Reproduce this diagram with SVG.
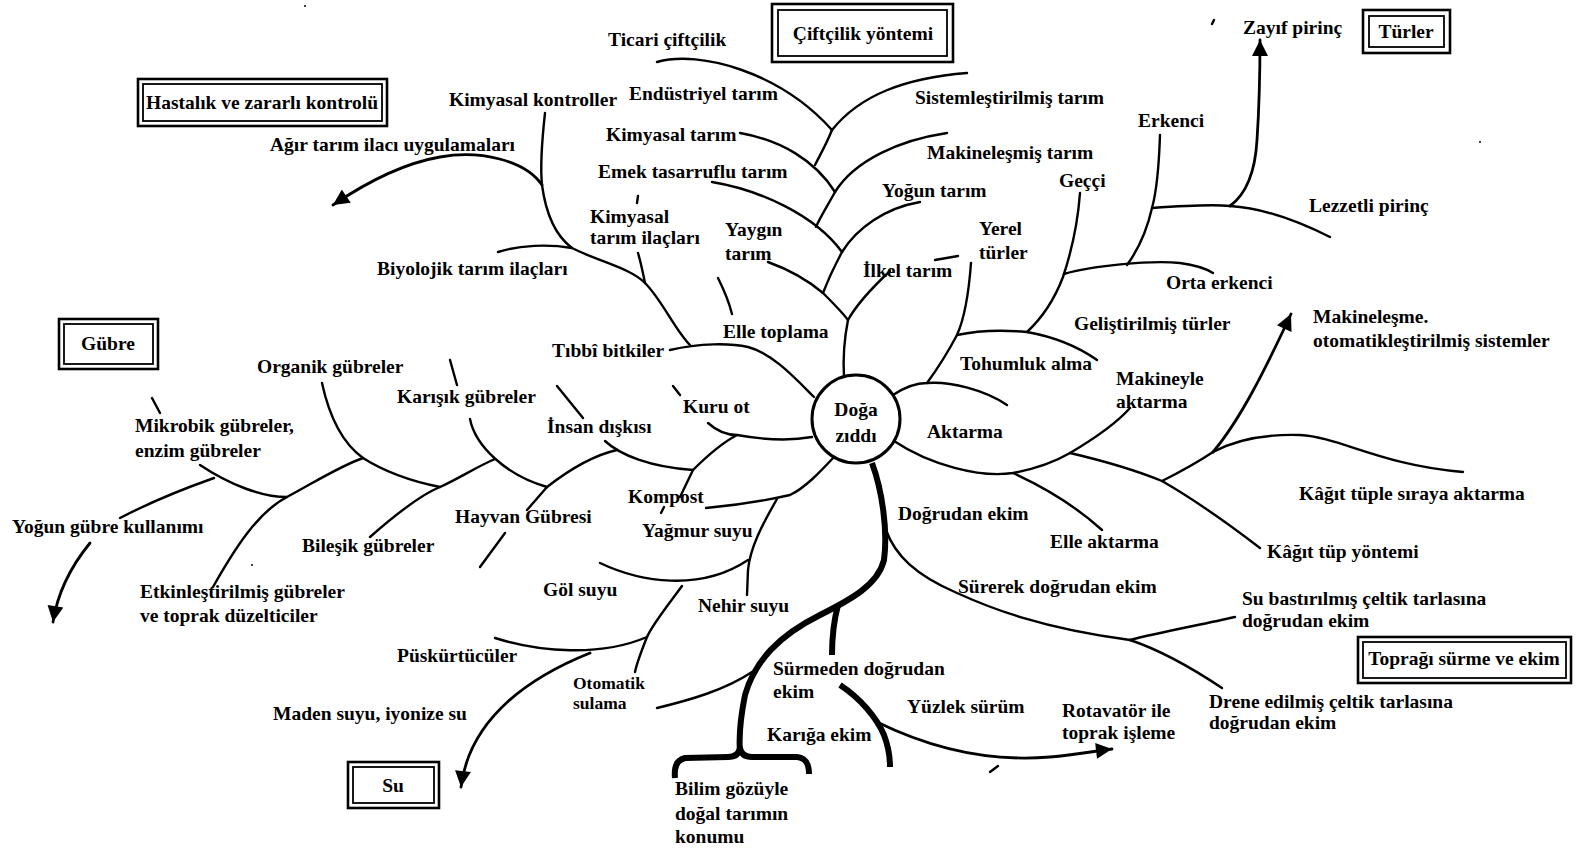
<svg xmlns="http://www.w3.org/2000/svg" width="1579" height="851" viewBox="0 0 1579 851">
<style>
.l{fill:none;stroke:#000;stroke-width:2.4;stroke-linecap:round;stroke-linejoin:round}
.k{fill:none;stroke:#000;stroke-width:6;stroke-linecap:butt;stroke-linejoin:round}
.a{fill:none;stroke:#000;stroke-width:2.8;stroke-linecap:round;marker-end:url(#ah)}
.t{font-family:"Liberation Serif","Times New Roman",serif;font-weight:bold;font-size:19.5px;fill:#000}
.s{font-size:17.5px}
.c{text-anchor:middle}
.bo{fill:#fff;stroke:#000;stroke-width:2.6}
.bi{fill:none;stroke:#000;stroke-width:1.8}
</style>
<defs>
<marker id="ah" viewBox="0 0 10 10" refX="10" refY="5" markerWidth="21" markerHeight="16" markerUnits="userSpaceOnUse" orient="auto"><path d="M0,0 L10,5 L0,10 z" fill="#000"/></marker>
</defs>
<rect width="1579" height="851" fill="#fff"/>

<g id="connectors">
<!-- farming methods tree -->
<path class="l" d="M657,62 C700,50 780,72 832,130"/>
<path class="l" d="M832,130 C860,95 905,78 967,73"/>
<path class="l" d="M832,130 C826,145 820,155 815,165"/>
<path class="l" d="M740,133 C780,140 815,160 835,192"/>
<path class="l" d="M947,133 C900,140 855,160 835,192"/>
<path class="l" d="M835,192 C828,205 820,217 816,227"/>
<path class="l" d="M712,182 C760,190 815,215 842,252"/>
<path class="l" d="M920,202 C885,208 857,228 842,252"/>
<path class="l" d="M842,252 C835,265 828,280 823,293"/>
<path class="l" d="M768,262 C790,270 810,282 823,293 C832,302 842,312 848,320"/>
<path class="l" d="M890,271 C875,285 858,302 848,320"/>
<path class="l" d="M848,320 C844,340 843,360 844,377"/>
<path class="l" d="M935,260 L958,256"/>
<!-- disease and pest control tree -->
<path class="l" d="M545,113 C542,140 540,165 542,185"/>
<path class="a" d="M542,185 C525,160 480,150 440,157 C405,163 370,180 333,205"/>
<path class="l" d="M542,185 C546,215 556,236 572,248 C600,262 630,268 645,283 C662,300 675,330 690,345"/>
<path class="l" d="M498,252 C520,245 548,244 572,248"/>
<path class="l" d="M638,253 C641,263 643,273 645,283"/>
<path class="l" d="M638,196 L637,203"/>
<path class="l" d="M670,350 C700,343 730,343 748,347 C772,353 795,378 814,397"/>
<path class="l" d="M718,278 C724,290 729,302 732,314"/>
<!-- fertilizer tree -->
<path class="l" d="M322,383 C330,420 345,445 363,458 C385,472 415,482 440,487"/>
<path class="l" d="M370,537 C395,515 420,495 440,487 C460,478 478,466 495,459"/>
<path class="l" d="M470,419 C475,445 505,475 547,487"/>
<path class="l" d="M527,510 L547,487"/>
<path class="l" d="M547,487 C565,473 590,456 617,450"/>
<path class="l" d="M605,441 C620,455 650,467 693,470"/>
<path class="l" d="M680,497 L693,470"/>
<path class="l" d="M693,470 C707,456 722,443 737,435"/>
<path class="l" d="M708,423 C718,432 728,435 737,435 C765,440 790,441 812,437"/>
<path class="l" d="M200,465 C230,485 262,497 287,497"/>
<path class="l" d="M214,478 C180,490 145,505 120,518"/>
<path class="a" d="M90,543 C72,565 58,590 53,622"/>
<path class="l" d="M213,587 C235,548 258,512 287,497 C315,482 340,466 363,458"/>
<path class="l" d="M450,360 L457,385"/>
<path class="l" d="M152,398 L160,413"/>
<path class="l" d="M557,386 L583,418"/>
<path class="l" d="M673,386 L680,395"/>
<path class="l" d="M505,533 L480,567"/>
<path class="l" d="M661,513 L664,507"/>
<!-- water tree -->
<path class="l" d="M706,508 C740,505 768,500 790,495 C805,488 820,472 834,457"/>
<path class="l" d="M777,499 C762,525 750,548 748,570 L747,595"/>
<path class="l" d="M600,563 C640,582 700,592 748,560"/>
<path class="l" d="M682,586 C668,605 652,625 647,637 C641,652 637,662 635,672"/>
<path class="l" d="M495,638 C540,652 600,657 647,637"/>
<path class="a" d="M590,653 C535,675 470,715 461,787"/>
<path class="l" d="M657,708 C690,700 725,690 752,672"/>
<!-- scientific position trunk -->
<path class="k" d="M872,463 C882,490 888,530 884,560 C878,585 850,600 820,615 C780,635 755,660 745,695 C740,720 739,740 740,752"/>
<path class="k" d="M838,605 C834,620 832,638 832,655"/>
<path class="k" stroke-width="5" d="M675,778 C674,768 676,760 685,758 L728,757 C735,757 739,754 740,748 C741,754 745,757 752,757 L797,757 C806,758 809,764 809,774"/>
<path class="k" d="M840,685 C860,698 877,718 884,735 C889,748 890,758 890,767"/>
<path class="a" d="M877,722 C930,748 990,762 1050,757 C1075,755 1095,751 1112,749"/>
<path class="l" d="M990,772 L998,766"/>
<!-- varieties tree -->
<path class="l" d="M893,395 C905,387 915,383 927,383 C950,381 985,390 1007,405"/>
<path class="l" d="M971,263 C969,290 966,315 957,335 C948,352 938,368 927,383"/>
<path class="l" d="M957,335 C980,330 1005,330 1027,332 C1055,337 1080,348 1097,360"/>
<path class="l" d="M1080,193 C1078,220 1072,250 1063,277 C1055,298 1042,318 1027,332"/>
<path class="l" d="M1064,274 C1090,266 1150,260 1180,263 C1195,265 1205,268 1213,273"/>
<path class="l" d="M1160,135 C1159,165 1157,190 1152,208 C1147,230 1138,250 1127,265"/>
<path class="l" d="M1152,208 C1180,206 1210,204 1230,206 C1265,208 1300,222 1330,237"/>
<path class="a" d="M1230,206 C1245,195 1255,175 1257,140 C1259,110 1260,85 1260,40"/>
<!-- transplanting tree -->
<path class="l" d="M894,441 C930,465 980,478 1013,473 C1040,468 1058,460 1070,453 C1092,440 1115,425 1130,408"/>
<path class="l" d="M1013,473 C1050,490 1080,510 1102,530"/>
<path class="l" d="M1070,453 C1100,460 1135,470 1162,481 C1195,500 1230,525 1260,548"/>
<path class="l" d="M1162,481 C1180,472 1198,462 1213,452"/>
<path class="a" d="M1213,452 C1240,420 1265,370 1291,314"/>
<path class="l" d="M1213,452 C1235,440 1265,434 1300,435 C1340,437 1380,465 1463,472"/>
<!-- direct seeding tree -->
<path class="l" d="M886,530 C895,555 915,575 957,593 C990,608 1040,628 1130,640"/>
<path class="l" d="M1130,640 C1160,632 1200,625 1235,617"/>
<path class="l" d="M1130,640 C1160,650 1195,670 1222,688"/>
<!-- stray marks -->
<circle cx="305" cy="6" r="1" fill="#000"/>
<path class="l" stroke-width="1.5" d="M1212,24 L1214,20"/>
<circle cx="1480" cy="142" r="1" fill="#000"/>
<circle cx="252" cy="565" r="1" fill="#000"/>
</g>

<!-- centre -->
<g id="center">
<circle cx="856" cy="419" r="44" fill="#fff" stroke="#000" stroke-width="3"/>
<text class="t c" x="856" y="416">Doğa</text>
<text class="t c" x="856" y="442">zıddı</text>
</g>

<!-- category boxes -->
<g id="box-hastalik"><rect class="bo" x="138" y="79" width="249" height="47"/><rect class="bi" x="143" y="84" width="239" height="37"/><text class="t c" x="262" y="109">Hastalık ve zararlı kontrolü</text></g>
<g id="box-ciftcilik"><rect class="bo" x="772" y="4" width="181" height="58"/><rect class="bi" x="778" y="10" width="169" height="46"/><text class="t c" x="863" y="40">Çiftçilik yöntemi</text></g>
<g id="box-turler"><rect class="bo" x="1363" y="10" width="87" height="43"/><rect class="bi" x="1369" y="16" width="75" height="31"/><text class="t c" x="1406" y="38">Türler</text></g>
<g id="box-gubre"><rect class="bo" x="59" y="319" width="99" height="50"/><rect class="bi" x="64" y="324" width="89" height="40"/><text class="t c" x="108" y="350">Gübre</text></g>
<g id="box-su"><rect class="bo" x="348" y="762" width="91" height="46"/><rect class="bi" x="353" y="767" width="81" height="36"/><text class="t c" x="393" y="792">Su</text></g>
<g id="box-toprak"><rect class="bo" x="1358" y="637" width="213" height="46"/><rect class="bi" x="1363" y="642" width="203" height="36"/><text class="t c" x="1464" y="665">Toprağı sürme ve ekim</text></g>

<!-- farming methods -->
<g id="n-ticari"><text class="t" x="608" y="46">Ticari çiftçilik</text></g>
<g id="n-endustriyel"><text class="t" x="629" y="100">Endüstriyel tarım</text></g>
<g id="n-kimyasal-tarim"><text class="t" x="606" y="141">Kimyasal tarım</text></g>
<g id="n-emek"><text class="t" x="598" y="178">Emek tasarruflu tarım</text></g>
<g id="n-yaygin"><text class="t" x="725" y="236">Yaygın</text><text class="t" x="725" y="260">tarım</text></g>
<g id="n-sistem"><text class="t" x="915" y="104">Sistemleştirilmiş tarım</text></g>
<g id="n-makinelesmis"><text class="t" x="927" y="159">Makineleşmiş tarım</text></g>
<g id="n-yogun-tarim"><text class="t" x="882" y="197">Yoğun tarım</text></g>
<g id="n-ilkel"><text class="t" x="863" y="277">İlkel tarım</text></g>
<!-- disease and pest control -->
<g id="n-kimyasal-kontroller"><text class="t" x="449" y="106">Kimyasal kontroller</text></g>
<g id="n-agir"><text class="t" x="270" y="151">Ağır tarım ilacı uygulamaları</text></g>
<g id="n-biyolojik"><text class="t" x="377" y="275">Biyolojik tarım ilaçları</text></g>
<g id="n-kti"><text class="t" x="590" y="223">Kimyasal</text><text class="t" x="590" y="244">tarım ilaçları</text></g>
<g id="n-tibbi"><text class="t" x="552" y="357">Tıbbî bitkiler</text></g>
<g id="n-elle-toplama"><text class="t" x="723" y="338">Elle toplama</text></g>
<!-- varieties -->
<g id="n-yerel"><text class="t" x="979" y="235">Yerel</text><text class="t" x="979" y="259">türler</text></g>
<g id="n-gecci"><text class="t" x="1059" y="187">Geççi</text></g>
<g id="n-erkenci"><text class="t" x="1138" y="127">Erkenci</text></g>
<g id="n-zayif"><text class="t" x="1243" y="34">Zayıf pirinç</text></g>
<g id="n-lezzetli"><text class="t" x="1309" y="212">Lezzetli pirinç</text></g>
<g id="n-orta"><text class="t" x="1166" y="289">Orta erkenci</text></g>
<g id="n-gelistirilmis"><text class="t" x="1074" y="330">Geliştirilmiş türler</text></g>
<g id="n-tohumluk"><text class="t" x="960" y="370">Tohumluk alma</text></g>
<!-- transplanting -->
<g id="n-aktarma"><text class="t" x="927" y="438">Aktarma</text></g>
<g id="n-makineyle"><text class="t" x="1116" y="385">Makineyle</text><text class="t" x="1116" y="408">aktarma</text></g>
<g id="n-makinelesme"><text class="t" x="1313" y="323">Makineleşme.</text><text class="t" x="1313" y="347">otomatikleştirilmiş sistemler</text></g>
<g id="n-kagit-tuple"><text class="t" x="1299" y="500">Kâğıt tüple sıraya aktarma</text></g>
<g id="n-kagit-tup"><text class="t" x="1267" y="558">Kâğıt tüp yöntemi</text></g>
<g id="n-elle-aktarma"><text class="t" x="1050" y="548">Elle aktarma</text></g>
<!-- direct seeding -->
<g id="n-dogrudan"><text class="t" x="898" y="520">Doğrudan ekim</text></g>
<g id="n-surerek"><text class="t" x="958" y="593">Sürerek doğrudan ekim</text></g>
<g id="n-su-bastirilmis"><text class="t" x="1242" y="605">Su bastırılmış çeltik tarlasına</text><text class="t" x="1242" y="627">doğrudan ekim</text></g>
<g id="n-drene"><text class="t" x="1209" y="708">Drene edilmiş çeltik tarlasına</text><text class="t" x="1209" y="729">doğrudan ekim</text></g>
<g id="n-surmeden"><text class="t" x="773" y="675">Sürmeden doğrudan</text><text class="t" x="773" y="698">ekim</text></g>
<g id="n-yuzlek"><text class="t" x="907" y="713">Yüzlek sürüm</text></g>
<g id="n-rotavator"><text class="t" x="1062" y="717">Rotavatör ile</text><text class="t" x="1062" y="739">toprak işleme</text></g>
<g id="n-karig"><text class="t" x="767" y="741">Karığa ekim</text></g>
<g id="n-bilim"><text class="t" x="675" y="795">Bilim gözüyle</text><text class="t" x="675" y="820">doğal tarımın</text><text class="t" x="675" y="843">konumu</text></g>
<!-- water -->
<g id="n-nehir"><text class="t" x="698" y="612">Nehir suyu</text></g>
<g id="n-gol"><text class="t" x="543" y="596">Göl suyu</text></g>
<g id="n-puskurtuculer"><text class="t" x="397" y="662">Püskürtücüler</text></g>
<g id="n-otomatik"><text class="t s" x="573" y="689">Otomatik</text><text class="t s" x="573" y="709">sulama</text></g>
<g id="n-maden"><text class="t" x="273" y="720">Maden suyu, iyonize su</text></g>
<g id="n-yagmur"><text class="t" x="642" y="537">Yağmur suyu</text></g>
<!-- fertilizer -->
<g id="n-kompost"><text class="t" x="628" y="503">Kompost</text></g>
<g id="n-hayvan"><text class="t" x="455" y="523">Hayvan Gübresi</text></g>
<g id="n-insan"><text class="t" x="547" y="433">İnsan dışkısı</text></g>
<g id="n-kuru-ot"><text class="t" x="683" y="413">Kuru ot</text></g>
<g id="n-karisik"><text class="t" x="397" y="403">Karışık gübreler</text></g>
<g id="n-organik"><text class="t" x="257" y="373">Organik gübreler</text></g>
<g id="n-mikrobik"><text class="t" x="135" y="432">Mikrobik gübreler,</text><text class="t" x="135" y="457">enzim gübreler</text></g>
<g id="n-yogun-gubre"><text class="t" x="12" y="533">Yoğun gübre kullanımı</text></g>
<g id="n-bilesik"><text class="t" x="302" y="552">Bileşik gübreler</text></g>
<g id="n-etkin"><text class="t" x="140" y="598">Etkinleştirilmiş gübreler</text><text class="t" x="140" y="622">ve toprak düzelticiler</text></g>
</svg>
